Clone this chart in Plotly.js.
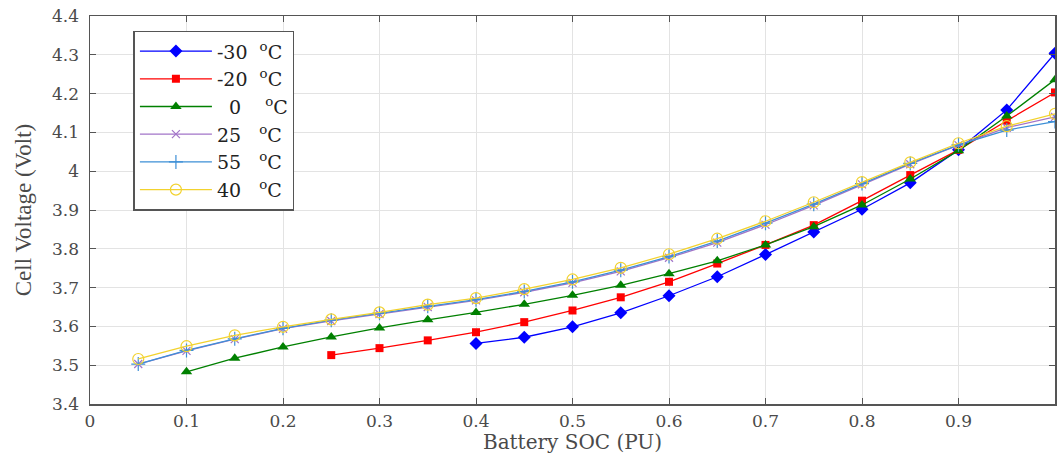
<!DOCTYPE html>
<html><head><meta charset="utf-8">
<script src="https://cdn.plot.ly/plotly-3.0.1.min.js"></script>
<style>html,body{margin:0;padding:0;background:#fff}#chart{width:1058px;height:454px}</style>
</head><body><div id="chart"></div>
<script>
var soc = [0.05,0.1,0.15,0.2,0.25,0.3,0.35,0.4,0.45,0.5,0.55,0.6,0.65,0.7,0.75,0.8,0.85,0.9,0.95,1.0];
var socM30 = [0.4,0.45,0.5,0.55,0.6,0.65,0.7,0.75,0.8,0.85,0.9,0.95,1.0];
var vM30 = [3.556,3.572,3.599,3.635,3.679,3.728,3.785,3.843,3.902,3.970,4.055,4.158,4.304];
var socM20 = [0.25,0.3,0.35,0.4,0.45,0.5,0.55,0.6,0.65,0.7,0.75,0.8,0.85,0.9,0.95,1.0];
var vM20 = [3.526,3.544,3.564,3.585,3.611,3.641,3.675,3.715,3.762,3.810,3.861,3.924,3.990,4.055,4.130,4.203];
var soc0 = [0.1,0.15,0.2,0.25,0.3,0.35,0.4,0.45,0.5,0.55,0.6,0.65,0.7,0.75,0.8,0.85,0.9,0.95,1.0];
var v0 = [3.483,3.518,3.547,3.573,3.596,3.617,3.636,3.657,3.680,3.706,3.736,3.769,3.810,3.857,3.913,3.980,4.053,4.142,4.236];
var v25 = [3.503,3.537,3.567,3.594,3.614,3.632,3.650,3.667,3.688,3.712,3.742,3.777,3.816,3.862,3.912,3.966,4.018,4.067,4.112,4.140];
var v55 = [3.503,3.538,3.568,3.595,3.616,3.634,3.652,3.669,3.690,3.715,3.745,3.780,3.820,3.866,3.915,3.968,4.020,4.068,4.106,4.128];
var v40 = [3.516,3.549,3.577,3.599,3.618,3.636,3.656,3.673,3.696,3.721,3.751,3.786,3.826,3.871,3.920,3.972,4.023,4.072,4.116,4.148];
var names = ['-30\u00a0\u00a0<sup>o</sup>C','-20\u00a0\u00a0<sup>o</sup>C','\u00a0\u00a00\u00a0\u00a0\u00a0\u00a0<sup>o</sup>C','25\u00a0\u00a0\u00a0<sup>o</sup>C','55\u00a0\u00a0\u00a0<sup>o</sup>C','40\u00a0\u00a0\u00a0<sup>o</sup>C'];

function tr(x, y, name, color, symbol, size, mline) {
  return {x: x, y: y, name: name, type: 'scatter', mode: 'lines+markers',
    line: {color: color, width: 1.3},
    marker: {symbol: symbol, size: size, color: color, line: {color: color, width: mline}}};
}
var data = [
  tr(socM30, vM30, names[0], '#0000ff', 'diamond', 10, 0),
  tr(socM20, vM20, names[1], '#ff0000', 'square', 8, 0),
  tr(soc0, v0, names[2], '#008000', 'triangle-up', 10, 0),
  tr(soc, v25, names[3], '#a274c8', 'x-thin-open', 8, 1.2),
  tr(soc, v55, names[4], '#3d8fd6', 'cross-thin-open', 10, 1.2),
  tr(soc, v40, names[5], '#f2d22e', 'circle-open', 11, 1.2)
];
var fontS = {family: 'DejaVu Serif, serif', size: 17, color: '#4a4a4a'};
var layout = {
  width: 1058, height: 454,
  margin: {l: 90, r: 3, t: 16, b: 50},
  paper_bgcolor: '#fff', plot_bgcolor: '#fff',
  showlegend: true,
  legend: {x: 0.045, y: 0.962, xanchor: 'left', yanchor: 'top', bgcolor: '#fff',
    bordercolor: '#555', borderwidth: 1.5, itemwidth: 72, tracegroupgap: 0,
    font: {family: 'DejaVu Serif, serif', size: 19, color: '#222'}},
  xaxis: {range: [0, 1], dtick: 0.1, tick0: 0, showgrid: true, gridcolor: '#e3e3e3', gridwidth: 1,
    zeroline: false, showline: true, linecolor: '#555', linewidth: 1.5, mirror: 'ticks',
    ticks: 'inside', ticklen: 6, tickcolor: '#555', tickfont: fontS, ticklabelstandoff: 1,
    title: {text: 'Battery SOC (PU)', font: {family: 'DejaVu Serif, serif', size: 20, color: '#4a4a4a'}, standoff: 4}},
  yaxis: {range: [3.4, 4.4], dtick: 0.1, tick0: 3.4, showgrid: true, gridcolor: '#e3e3e3', gridwidth: 1,
    zeroline: false, showline: true, linecolor: '#555', linewidth: 1.5, mirror: 'ticks',
    ticks: 'inside', ticklen: 6, tickcolor: '#555', tickfont: fontS, ticklabelstandoff: 6,
    title: {text: 'Cell Voltage (Volt)', font: {family: 'Liberation Serif, serif', size: 23, color: '#4a4a4a'}, standoff: 14}}
};
Plotly.newPlot('chart', data, layout, {displayModeBar: false, staticPlot: true});
</script></body></html>
